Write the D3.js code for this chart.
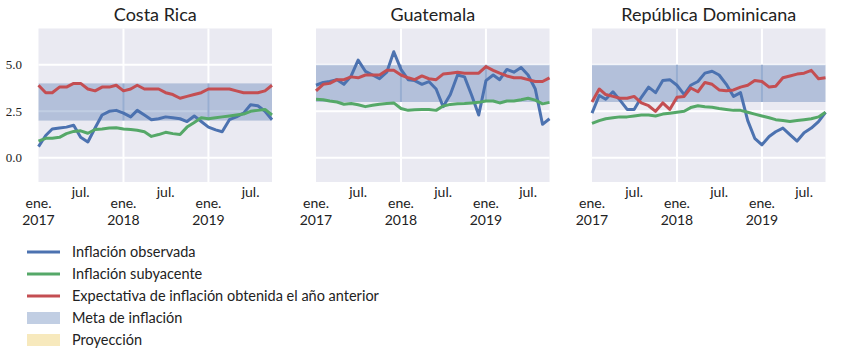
<!DOCTYPE html>
<html>
<head>
<meta charset="utf-8">
<script src="https://cdn.jsdelivr.net/npm/d3@7"></script>
<style>
  body { margin: 0; background: #fff; }
  svg { display: block; }
</style>
</head>
<body>
<div id="chart"></div>
<script>
// monthly series, ene. 2017 .. oct. 2019 (34 points each)
const countries = ["Costa Rica", "Guatemala", "República Dominicana"]

const crObs  = [0.6,1.2,1.55,1.6,1.65,1.75,1.1,0.85,1.6,2.3,2.5,2.55,2.4,2.2,2.55,2.3,2.05,2.1,2.2,2.15,2.1,1.95,2.25,1.95,1.65,1.5,1.4,2.05,2.2,2.4,2.85,2.8,2.5,2.05]
const crCore = [0.9,1.05,1.05,1.1,1.3,1.42,1.45,1.32,1.52,1.55,1.6,1.62,1.55,1.52,1.48,1.4,1.15,1.25,1.37,1.3,1.25,1.65,1.9,2.15,2.1,2.15,2.2,2.25,2.3,2.35,2.5,2.55,2.6,2.3]
const crExp  = [3.9,3.5,3.5,3.8,3.8,4.0,4.0,3.7,3.6,3.8,3.8,3.9,3.6,3.7,3.9,3.7,3.7,3.7,3.5,3.4,3.2,3.3,3.4,3.5,3.7,3.7,3.7,3.7,3.6,3.5,3.5,3.5,3.6,3.9]

const gtObs  = [3.9,4.05,4.1,4.2,3.95,4.4,5.25,4.65,4.45,4.25,4.6,5.7,4.75,4.2,4.15,3.95,4.1,3.7,2.75,3.4,4.45,4.35,3.35,2.3,4.15,4.45,4.2,4.75,4.6,4.85,4.45,3.7,1.8,2.1]
const gtCore = [3.15,3.12,3.05,3.0,2.88,2.92,2.85,2.75,2.82,2.88,2.92,2.95,2.65,2.55,2.58,2.6,2.6,2.55,2.78,2.87,2.9,2.92,2.95,2.98,3.05,3.05,2.95,3.05,3.05,3.12,3.2,3.1,2.9,2.98]
const gtExp  = [3.6,3.95,4.0,4.2,4.2,4.35,4.3,4.45,4.45,4.45,4.7,4.7,4.45,4.3,4.2,4.4,4.25,4.2,4.5,4.55,4.6,4.55,4.55,4.55,4.9,4.7,4.55,4.4,4.3,4.3,4.2,4.1,4.1,4.3]

const rdObs  = [2.4,3.35,3.15,3.55,3.1,2.6,2.6,3.25,3.8,3.5,4.15,4.2,3.9,3.4,3.9,4.1,4.55,4.65,4.45,3.95,3.3,3.5,2.0,1.05,0.7,1.15,1.4,1.6,1.25,0.9,1.35,1.6,1.95,2.45]
const rdCore = [1.85,2.0,2.1,2.15,2.2,2.2,2.25,2.3,2.3,2.25,2.35,2.4,2.45,2.5,2.7,2.8,2.75,2.72,2.65,2.6,2.55,2.55,2.45,2.35,2.25,2.15,2.05,2.0,1.95,2.0,2.05,2.1,2.2,2.45]
const rdExp  = [3.0,3.7,3.4,3.3,3.2,3.2,3.3,2.95,2.8,2.5,2.95,2.6,3.25,3.3,3.75,3.55,4.05,3.95,3.65,3.6,3.65,3.8,3.9,4.15,4.1,3.8,3.85,4.3,4.4,4.5,4.55,4.7,4.25,4.3]

// inflation target band (low, high) per country
const targetLow  = [2, 3, 3]
const targetHigh = [4, 5, 5]
const targetYears = [2017, 2018, 2019]

const yTicks = [0, 2.5, 5.0]
const xTickLabels = ["ene.|2017", "jul.", "ene.|2018", "jul.", "ene.|2019", "jul."]

const seriesNames = ["Inflación observada", "Inflación subyacente", "Expectativa de inflación obtenida el año anterior"]
const legendNames = seriesNames.concat(["Meta de inflación", "Proyección"])

const colors = ["#4c72b0", "#55a868", "#c44e52"]

const panelSeries = [
  [crObs, crCore, crExp],
  [gtObs, gtCore, gtExp],
  [rdObs, rdCore, rdExp]
]

// dates for each monthly value
const months = d3.timeMonth.range(new Date(2017, 0, 1), new Date(2017, crObs.length, 1))
const xTicks = d3.timeMonth.range(new Date(2017, 0, 1), months[months.length - 1], 6)

const W = 847, H = 352
const panelX = [38.5, 316, 592]
const panelW = 233.5
const plotTop = 28.5, plotBottom = 182

const svg = d3.select("#chart").append("svg")
  .attr("width", W).attr("height", H)

const y = d3.scaleLinear().domain([-1.3, 6.95]).range([plotBottom, plotTop])

panelX.forEach((px, p) => {
  const x = d3.scaleTime()
    .domain([months[0], months[months.length - 1]])
    .range([px, px + panelW])

  const g = svg.append("g")

  // background
  g.append("rect")
    .attr("x", px).attr("y", plotTop)
    .attr("width", panelW).attr("height", plotBottom - plotTop)
    .attr("fill", "#eaeaf2")

  // grid
  g.selectAll(".hgrid").data(yTicks).join("line")
    .attr("x1", px).attr("x2", px + panelW)
    .attr("y1", d => y(d)).attr("y2", d => y(d))
    .attr("stroke", "#fff").attr("stroke-width", 2)

  const janTicks = xTicks.filter(d => d.getMonth() === 0 && +d !== +months[0])
  g.selectAll(".vgrid").data(janTicks).join("line")
    .attr("x1", d => x(d)).attr("x2", d => x(d))
    .attr("y1", plotTop).attr("y2", plotBottom)
    .attr("stroke", "#fff").attr("stroke-width", 2)

  // target band, one rect per year (they overlap a bit at the year change)
  const bx0 = d => Math.max(px, x(new Date(d, 0, 1)) - 1)
  const bx1 = d => Math.min(px + panelW, x(new Date(d + 1, 0, 1)) + 1)
  g.selectAll(".band").data(targetYears).join("rect")
    .attr("x", bx0)
    .attr("width", d => bx1(d) - bx0(d))
    .attr("y", y(targetHigh[p]))
    .attr("height", y(targetLow[p]) - y(targetHigh[p]))
    .attr("fill", "#4c72b0").attr("fill-opacity", 0.35)

  // lines
  const line = d3.line()
    .x((d, i) => x(months[i]))
    .y(d => y(d))

  g.selectAll(".series").data(panelSeries[p]).join("path")
    .attr("d", d => line(d))
    .attr("fill", "none")
    .attr("stroke", (d, i) => colors[i])
    .attr("stroke-width", 3)
    .attr("stroke-linejoin", "round")

  // title
  g.append("text")
    .attr("x", px + panelW / 2).attr("y", 21)
    .attr("text-anchor", "middle")
    .style("font-family", "Lato")
    .style("font-size", "18px")
    .style("fill", "#222")
    .text(countries[p])

  // x tick labels: month on one line, year as a separate text below it
  xTicks.forEach((d, i) => {
    const parts = xTickLabels[i].split("|")
    const lab = (txt, yy) => g.append("text")
      .attr("x", x(d)).attr("y", yy)
      .attr("text-anchor", "middle")
      .style("font-family", "Lato")
      .style("font-size", "14px")
      .style("fill", "#222")
      .text(txt)
    if (parts.length === 1) {
      lab(parts[0], 197)
    } else {
      lab(parts[0], 208)
      lab(parts[1], 225)
    }
  })

  // y tick labels only on the first panel
  if (p === 0) {
    g.selectAll(".ylab").data(yTicks).join("text")
      .attr("x", 22).attr("y", d => y(d))
      .attr("dy", "0.35em")
      .attr("text-anchor", "end")
      .style("font-family", "Liberation Serif")
      .style("font-size", "13px")
      .style("fill", "#222")
      .text(d => d.toFixed(1))
  }
})

// legend
const legend = svg.append("g").attr("transform", "translate(27, 252)")
const rowH = 22

legend.selectAll(".lline").data(seriesNames).join("line")
  .attr("x1", 0).attr("x2", 33)
  .attr("y1", (d, i) => i * rowH).attr("y2", (d, i) => i * rowH)
  .attr("stroke", (d, i) => colors[i])
  .attr("stroke-width", 3)

legend.append("rect")
  .attr("x", 0).attr("y", 3 * rowH - 6)
  .attr("width", 33).attr("height", 12)
  .attr("fill", "#4c72b0").attr("fill-opacity", 0.35)

legend.append("rect")
  .attr("x", 0).attr("y", 4 * rowH - 6)
  .attr("width", 33).attr("height", 12)
  .attr("fill", "#f7e9bd")

legend.selectAll(".ltext").data(legendNames).join("text")
  .attr("x", 45).attr("y", (d, i) => i * rowH)
  .attr("dy", "0.35em")
  .style("font-family", "Lato")
  .style("font-size", "14.5px")
  .style("fill", "#222")
  .text(d => d)
</script>
</body>
</html>
